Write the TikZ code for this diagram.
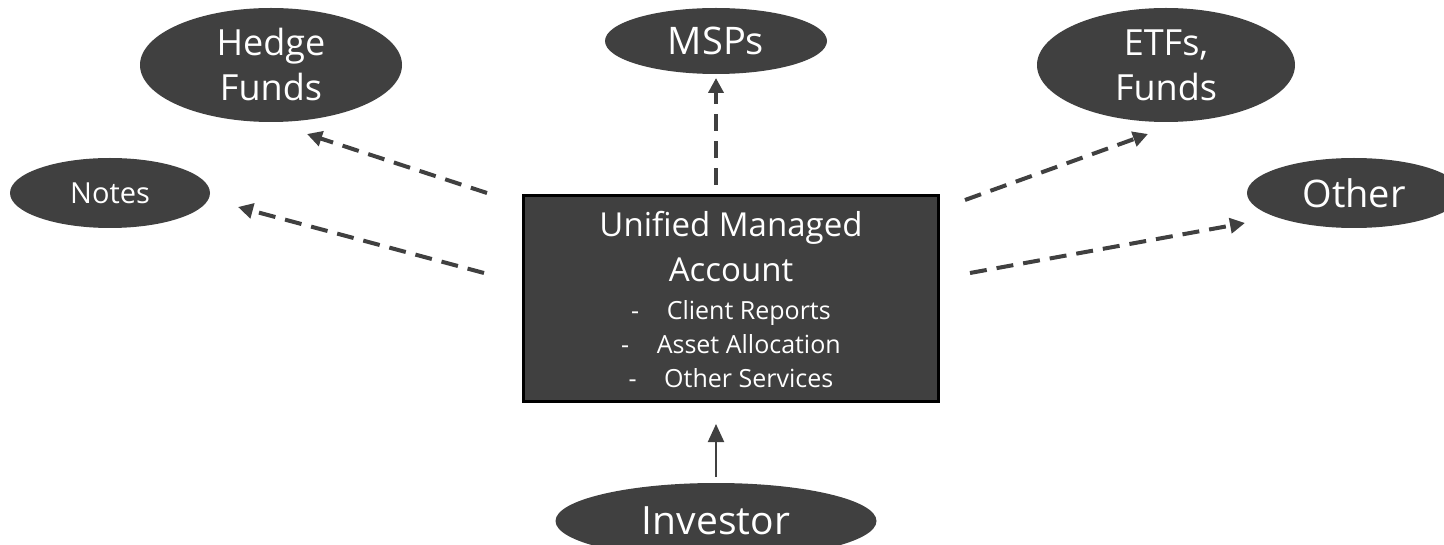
\documentclass[tikz,border=0pt]{standalone}
\usepackage{fontspec}
\setmainfont{Open Sans}
\usepackage{tikz}
\usetikzlibrary{positioning, calc, shapes.geometric, arrows.meta}
\definecolor{umaGray}{RGB}{64, 64, 64}

\begin{document}
\begin{tikzpicture}[
    x=1pt, y=-1pt,
    bubble/.style={ellipse, fill=umaGray, text=white, inner sep=0pt,
                   align=center},
    umabox/.style={rectangle, draw=black, fill=umaGray, line width=3pt,
                   text=white, minimum width=415pt, minimum height=206pt,
                   text width=400pt, align=center, inner sep=0pt},
    dasharrow/.style={-{Triangle[length=15pt, width=15pt]}, umaGray,
                      line width=4pt, dash pattern=on 17pt off 10pt},
    solidarrow/.style={-{Triangle[length=18pt, width=16pt]}, umaGray,
                       line width=2pt},
  ]
    \useasboundingbox (0,0) rectangle (1444,545);

    % centre box
    \node[umabox] (uma) at (731,299)
         {{\fontsize{33}{45}\selectfont \spaceskip=.26em\relax
           Unified Managed\\Account\par}
          \vspace{4pt}
          {\fontsize{25}{34}\selectfont \spaceskip=.26em\relax
           -\hspace{1.1em}Client Reports\\
           -\hspace{1.1em}Asset Allocation\\
           -\hspace{1.1em}Other Services\par}};

    % outer ellipses
    \node[bubble, minimum width=262pt, minimum height=114pt,
          font=\fontsize{36}{45}\selectfont] (hedge) at (271,65)
         {Hedge\\Funds};
    \node[bubble, minimum width=222pt, minimum height=66pt,
          font=\fontsize{38}{45}\selectfont] (msps) at (716,41) {MSPs};
    \node[bubble, minimum width=258pt, minimum height=114pt,
          font=\fontsize{36}{45}\selectfont] (etfs) at (1166,65)
         {ETFs,\\Funds};
    \node[bubble, minimum width=200pt, minimum height=70pt,
          font=\fontsize{29}{34}\selectfont] (notes) at (110,193) {Notes};
    \node[bubble, minimum width=214pt, minimum height=70pt,
          font=\fontsize{38}{45}\selectfont] (other) at (1354,193) {Other};
    \node[bubble, minimum width=321pt, minimum height=76pt,
          font=\fontsize{39}{45}\selectfont] (investor) at (716,521)
         {Investor};

    % arrow ends
    \coordinate (hedge-tail) at (487,193);
    \coordinate (hedge-tip) at (307,134);
    \coordinate (notes-tail) at (484,273);
    \coordinate (notes-tip) at (238,207);
    \coordinate (msps-tail) at (716,185);
    \coordinate (msps-tip) at (716,78);
    \coordinate (etfs-tail) at (965,200);
    \coordinate (etfs-tip) at (1148,134);
    \coordinate (other-tail) at (970,273);
    \coordinate (other-tip) at (1245,223);
    \coordinate (inv-tail) at (716,477);
    \coordinate (inv-tip) at (716,424);

    \draw[dasharrow] (hedge-tail) -- (hedge-tip);
    \draw[dasharrow] (notes-tail) -- (notes-tip);
    \draw[dasharrow] (msps-tail) -- (msps-tip);
    \draw[dasharrow] (etfs-tail) -- (etfs-tip);
    \draw[dasharrow] (other-tail) -- (other-tip);
    \draw[solidarrow] (inv-tail) -- (inv-tip);
  \end{tikzpicture}
\end{document}
